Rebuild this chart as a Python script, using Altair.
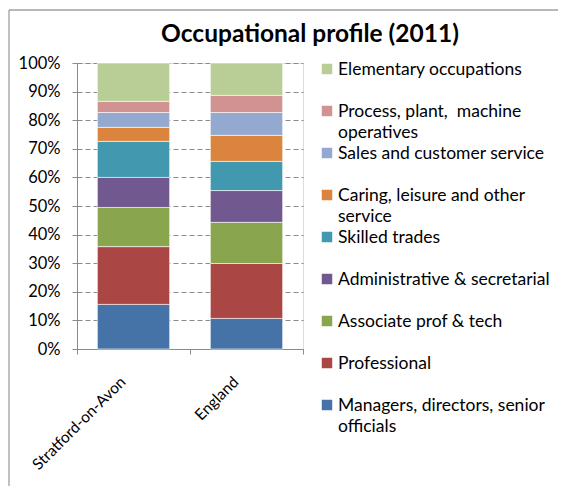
import altair as alt
import pandas as pd

areas = ["Stratford-on-Avon", "England"]
occupations = [
    "Managers, directors, senior|officials",
    "Professional",
    "Associate prof & tech",
    "Administrative & secretarial",
    "Skilled trades",
    "Caring, leisure and other|service",
    "Sales and customer service",
    "Process, plant,\u00a0 machine|operatives",
    "Elementary occupations",
]
stratford = [15.6, 20.2, 13.7, 10.5, 12.6, 4.9, 5.2, 3.9, 13.4]
england = [10.7, 19.2, 14.4, 11.1, 10.2, 9.1, 8.0, 6.0, 11.3]
colors = ["#4572A7", "#AA4643", "#89A54E", "#71588F", "#4198AF",
          "#DB843D", "#93A9CF", "#D19392", "#B9CD96"]
title_text = "Occupational profile (2011)"

rows = []
for area, vals in zip(areas, [stratford, england]):
    for i, (occ, v) in enumerate(zip(occupations, vals)):
        rows.append({"area": area, "occupation": occ, "value": v / 100.0, "idx": i})
df = pd.DataFrame(rows)

# legend table: top-to-bottom order (Elementary first)
legend_df = pd.DataFrame({
    "occupation": occupations[::-1],
    "pos": list(range(len(occupations))),
})

FONT = "Lato"
GRAY = "#8a8a8a"
color_scale = alt.Scale(domain=occupations[::-1], range=colors[::-1])

bars = alt.Chart(df).mark_bar(width=alt.RelativeBandSize(0.64), stroke="white", strokeWidth=0.6).encode(
    x=alt.X("area:N", sort=areas, title=None,
            scale=alt.Scale(paddingInner=0, paddingOuter=0),
            axis=alt.Axis(labelAngle=-45, labelAlign="right", labelBaseline="middle",
                          labelPadding=25, labelOffset=-11, tickBand="extent", tickSize=5,
                          tickColor=GRAY, domainColor=GRAY, labelColor="#000000",
                          labelFont=FONT, labelFontSize=15.5, grid=False)),
    y=alt.Y("value:Q", stack="zero", title=None,
            scale=alt.Scale(domain=[0, 1], nice=False),
            axis=alt.Axis(format=".0%", values=[i / 10 for i in range(11)],
                          grid=True, gridDash=[5, 3], gridColor=GRAY,
                          tickColor=GRAY, tickSize=5, domainColor=GRAY,
                          labelPadding=12, labelColor="#000000",
                          labelFont=FONT, labelFontSize=16.5)),
    color=alt.Color("occupation:N", scale=color_scale, legend=None),
    order=alt.Order("idx:Q", sort="ascending"),
)

pos_scale = alt.Scale(domain=[0, 8], range=[6, 342])
leg_sq = alt.Chart(legend_df).mark_square(size=110, opacity=1).encode(
    x=alt.value(250),
    y=alt.Y("pos:Q", scale=pos_scale, axis=None),
    color=alt.Color("occupation:N", scale=color_scale, legend=None),
)
leg_txt = alt.Chart(legend_df).mark_text(
    align="left", baseline="alphabetic", dy=5.5, font=FONT, fontSize=17.5,
    color="#000000", lineBreak="|", lineHeight=21,
).encode(
    x=alt.value(261),
    y=alt.Y("pos:Q", scale=pos_scale, axis=None),
    text="occupation:N",
)

one = pd.DataFrame({"t": [title_text]})
title = alt.Chart(one).mark_text(
    align="center", baseline="alphabetic", font=FONT, fontSize=24.5, fontWeight="bold",
    color="#000000",
).encode(x=alt.value(233), y=alt.value(-21), text="t:N")

top_line = alt.Chart(one).mark_rule(color="#a0a0a0", strokeWidth=1.3).encode(
    x=alt.value(-68), x2=alt.value(500), y=alt.value(-53))
left_line = alt.Chart(one).mark_rule(color="#a0a0a0", strokeWidth=1.3).encode(
    x=alt.value(-68), y=alt.value(-53), y2=alt.value(500))

chart = alt.layer(bars, leg_sq, leg_txt, title, top_line, left_line).resolve_scale(
    y="independent"
).properties(
    width=226, height=286,
    autosize=alt.AutoSizeParams(type="none"),
    padding={"left": 69, "top": 55, "right": 255, "bottom": 137},
).configure_view(stroke=None).configure(background="white")

chart.save("out.html", embed_options={"renderer": "svg", "actions": False})
